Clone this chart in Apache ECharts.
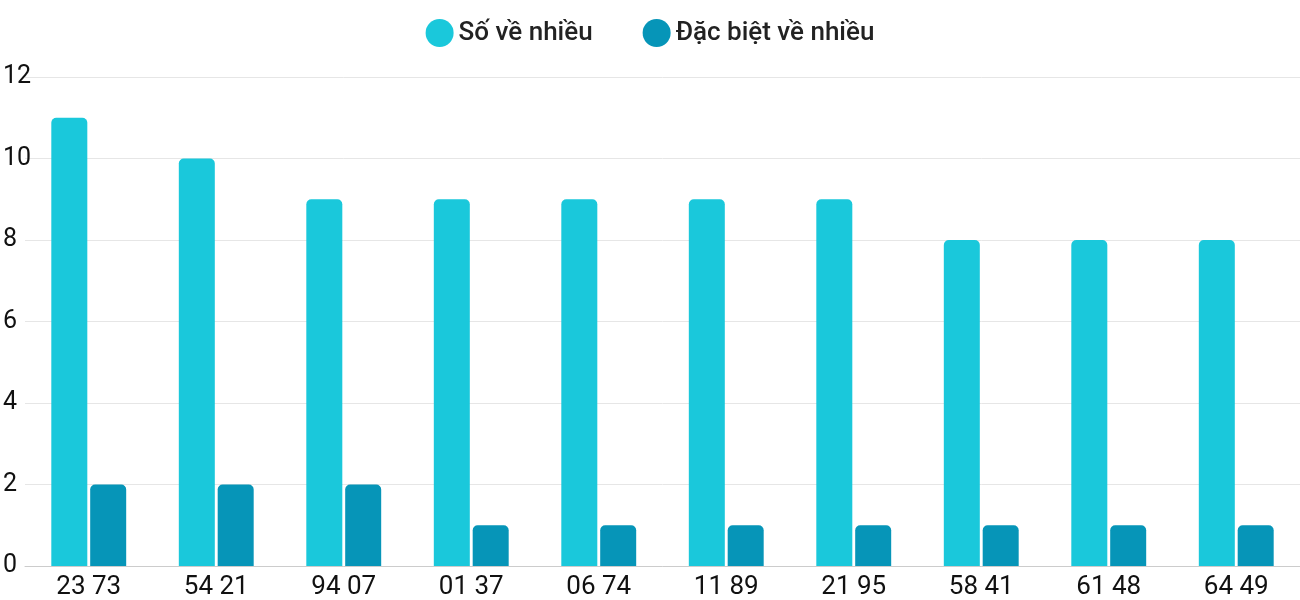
<!DOCTYPE html>
<html>
<head>
<meta charset="utf-8">
<script src="https://cdn.jsdelivr.net/npm/echarts@6/dist/echarts.min.js"></script>
<style>html,body{margin:0;padding:0;background:#fff}#chart{width:1300px;height:600px}</style>
</head>
<body>
<div id="chart"></div>
<script>
var categories = ['23 73', '54 21', '94 07', '01 37', '06 74', '11 89', '21 95', '58 41', '61 48', '64 49'];
var soVeNhieu = [11, 10, 9, 9, 9, 9, 9, 8, 8, 8];
var dacBiet = [2, 2, 2, 1, 1, 1, 1, 1, 1, 1];

var myChart = echarts.init(document.getElementById('chart'));
var option = {
    textStyle : { fontFamily : 'Roboto' },
    legend : {
        top : 14,
        left : 'center',
        icon : 'circle',
        itemWidth : 28,
        itemHeight : 28,
        itemGap : 50,
        textStyle : { fontSize : 26, fontWeight : 500, color : '#222', fontFamily : 'Roboto' },
        data : ['Số về nhiều', 'Đặc biệt về nhiều']
    },
    grid : { left : 19.5, width : 1310, top : 77, bottom : 34 },
    xAxis : {
        type : 'category',
        data : categories,
        axisLine : { lineStyle : { color : '#ccc' } },
        axisTick : { show : false },
        axisLabel : { fontSize : 26, color : '#111', margin : 8 }
    },
    yAxis : {
        type : 'value',
        min : 0, max : 12, interval : 2,
        splitLine : { lineStyle : { color : '#e6e6e6' } },
        axisLabel : { fontSize : 25, color : '#111', align : 'left', margin : 22 }
    },
    series : [
        {
            name : 'Số về nhiều', type : 'bar', data : soVeNhieu,
            barWidth : 36, barGap : '8%',
            itemStyle : { color : '#1ac8db', borderRadius : [5, 5, 0, 0] }
        },
        {
            name : 'Đặc biệt về nhiều', type : 'bar', data : dacBiet,
            barWidth : 36,
            itemStyle : { color : '#0695b8', borderRadius : [5, 5, 0, 0] }
        }
    ]
};
myChart.setOption(option, true);
</script>
</body>
</html>
